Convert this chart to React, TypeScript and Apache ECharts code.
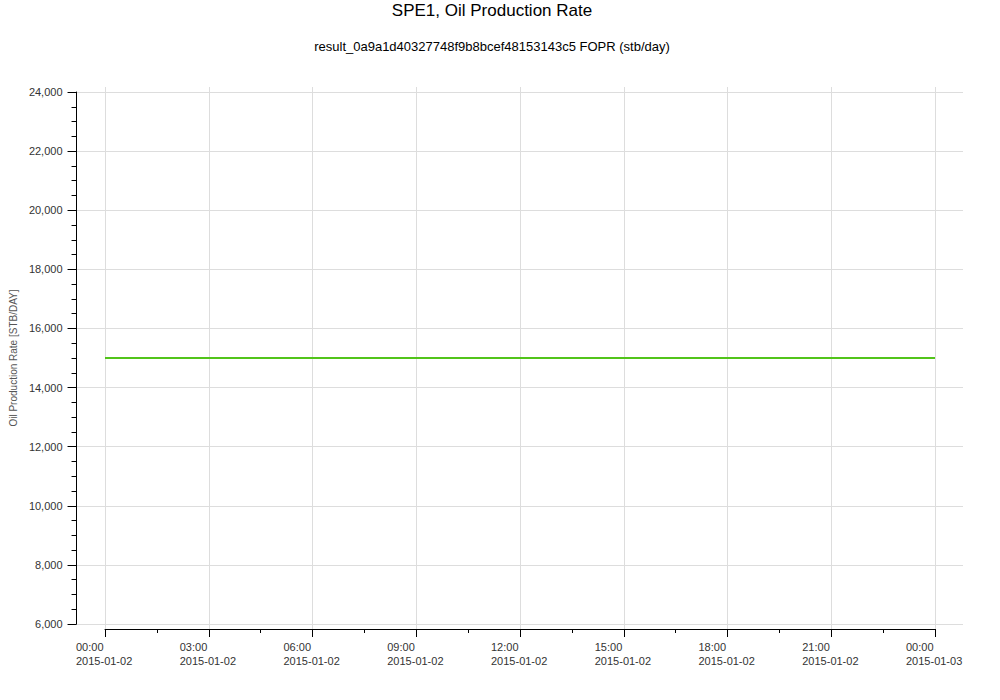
import React from 'react';
import * as echarts from 'echarts';

const titleText = 'SPE1, Oil Production Rate';
const subtitleText = 'result_0a9a1d40327748f9b8bcef48153143c5 FOPR (stb/day)';
const yAxisName = 'Oil Production Rate [STB/DAY]';

// hours since 2015-01-02 00:00
const sampleHours = [0, 24];
const fopr = [15000, 15000];

const xTickTimes = ['00:00', '03:00', '06:00', '09:00', '12:00', '15:00', '18:00', '21:00', '00:00'];
const xTickDates = [
  '2015-01-02', '2015-01-02', '2015-01-02', '2015-01-02', '2015-01-02',
  '2015-01-02', '2015-01-02', '2015-01-02', '2015-01-03',
];

const FONT = '"Liberation Sans", Helvetica, Arial, sans-serif';
const GRID_COLOR = '#dddddd';

export default function App() {
  const chartRef = React.useRef<HTMLDivElement>(null);

  React.useEffect(() => {
    if (!chartRef.current) return;
    const chart = echarts.init(chartRef.current, undefined, { renderer: 'svg' });

    const option: echarts.EChartsOption = {
      animation: false,
      textStyle: { fontFamily: FONT },
      title: [
        {
          text: titleText,
          left: 487,
          top: -3,
          textAlign: 'center',
          textStyle: { fontSize: 17, fontWeight: 'normal', color: '#000', fontFamily: FONT },
        },
        {
          text: subtitleText,
          left: 487,
          top: 35,
          textAlign: 'center',
          textStyle: { fontSize: 13, fontWeight: 'normal', color: '#000', fontFamily: FONT },
        },
      ],
      grid: [
        { left: 76, right: 37, top: 92, bottom: 76 },
        { left: 105, right: 65, top: 87, bottom: 71 },
      ],
      xAxis: [
        { gridIndex: 0, type: 'value', min: 0, max: 1, show: false },
        {
          gridIndex: 1,
          type: 'value',
          min: 0,
          max: 24,
          interval: 3,
          axisLine: { show: true, lineStyle: { color: '#000', width: 1 } },
          axisTick: { show: true, length: 8, lineStyle: { color: '#000' } },
          minorTick: { show: true, splitNumber: 2, length: 4, lineStyle: { color: '#000' } },
          splitLine: { show: true, lineStyle: { color: GRID_COLOR, width: 1 } },
          axisLabel: {
            margin: 11,
            formatter: (v: number) => {
              const i = Math.round(v / 3);
              return `{t|${xTickTimes[i]}}\n{d|${xTickDates[i]}}`;
            },
            rich: {
              t: { width: 58, align: 'left', fontSize: 11, color: '#333', fontFamily: FONT, lineHeight: 14 },
              d: { width: 58, align: 'left', fontSize: 11, color: '#333', fontFamily: FONT, lineHeight: 14 },
            },
          },
        },
      ],
      yAxis: [
        {
          gridIndex: 0,
          type: 'value',
          min: 6000,
          max: 24000,
          interval: 2000,
          name: yAxisName,
          nameLocation: 'middle',
          nameGap: 52,
          nameTextStyle: { fontSize: 10, color: '#555', fontFamily: FONT },
          axisLine: { show: true, lineStyle: { color: '#000', width: 1 } },
          axisTick: { show: true, length: 9, lineStyle: { color: '#000' } },
          minorTick: { show: true, splitNumber: 4, length: 5, lineStyle: { color: '#000' } },
          splitLine: { show: true, lineStyle: { color: GRID_COLOR, width: 1 } },
          axisLabel: {
            margin: 14,
            fontSize: 11,
            color: '#333',
            fontFamily: FONT,
            formatter: (v: number) => v.toLocaleString('en-US'),
          },
        },
        { gridIndex: 1, type: 'value', min: 5831, max: 24169, show: false },
      ],
      series: [
        {
          type: 'line',
          xAxisIndex: 1,
          yAxisIndex: 1,
          symbol: 'none',
          lineStyle: { width: 2, color: '#52c41a' },
          data: sampleHours.map((h, i) => [h, fopr[i]]),
        },
      ],
    };

    chart.setOption(option);
    return () => {
      chart.dispose();
    };
  }, []);

  return (
    <div
      ref={chartRef}
      style={{ position: 'absolute', left: 0, top: 0, width: 1000, height: 700 }}
    />
  );
}
